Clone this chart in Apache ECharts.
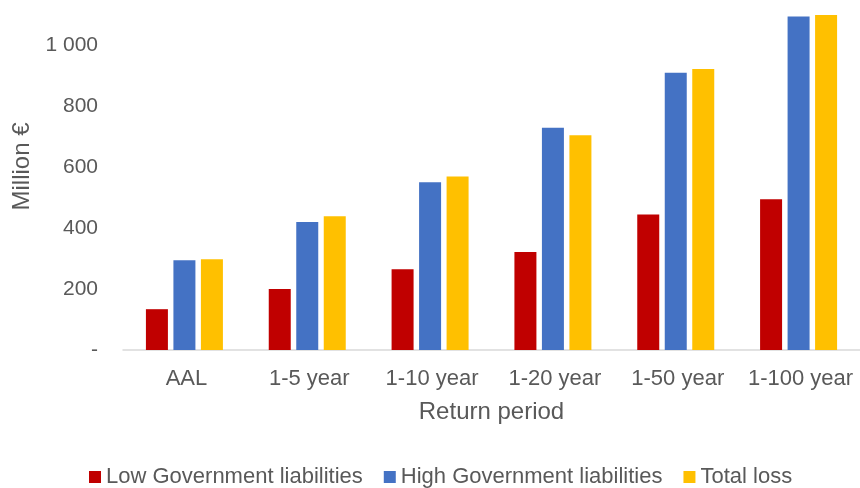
<!DOCTYPE html>
<html>
<head>
<meta charset="utf-8">
<script src="https://cdn.jsdelivr.net/npm/echarts@6/dist/echarts.min.js"></script>
<style>
  html, body { margin: 0; padding: 0; background: #fff; }
  #chart { width: 860px; height: 488px; }
</style>
</head>
<body>
<div id="chart"></div>
<script>
  const categories = ['AAL', '1-5 year', '1-10 year', '1-20 year', '1-50 year', '1-100 year'];
  const lowGov = [134, 200, 265, 322, 445, 495];
  const highGov = [295, 420, 551, 730, 910, 1095];
  const totalLoss = [298, 439, 570, 705, 923, 1100];

  const chart = echarts.init(document.getElementById('chart'));
  const textColor = '#595959';
  const font = 'Liberation Sans, Arial, sans-serif';

  chart.setOption({
    animation: false,
    textStyle: { fontFamily: font },
    legend: {
      data: ['Low Government liabilities', 'High Government liabilities', 'Total loss'],
      bottom: -5,
      left: 84,
      icon: 'rect',
      itemWidth: 12,
      itemHeight: 12,
      itemGap: 21,
      textStyle: { fontSize: 22, color: textColor, fontFamily: font },
    },
    grid: {
      left: 123,
      width: 740,
      top: 15,
      bottom: 138,
      containLabel: false,
    },
    xAxis: {
      type: 'category',
      data: categories,
      name: 'Return period',
      nameLocation: 'middle',
      nameGap: 50,
      nameTextStyle: { fontSize: 24, color: textColor, fontFamily: font },
      axisLabel: { fontSize: 22, color: textColor, margin: 18, interval: 0, fontFamily: font, padding: [0, 0, 0, 4] },
      axisLine: { show: true, lineStyle: { color: '#d9d9d9', width: 1.5 } },
      axisTick: { show: false },
    },
    yAxis: {
      type: 'value',
      min: 0,
      max: 1100,
      interval: 200,
      name: 'Million €',
      nameLocation: 'middle',
      nameGap: 86,
      nameTextStyle: { fontSize: 24, color: textColor, fontFamily: font, padding: [0, 0, 0, 32] },
      axisLine: { show: false },
      axisTick: { show: false },
      splitLine: { show: false },
      axisLabel: {
        fontSize: 21,
        color: textColor,
        margin: 25,
        fontFamily: font,
        formatter: v => {
          if (v === 0) return '-';
          if (v > 1000) return '';
          return v >= 1000 ? String(v).replace(/\B(?=(\d{3})+(?!\d))/g, ' ') : String(v);
        },
      },
    },
    series: [
      {
        name: 'Low Government liabilities',
        type: 'bar',
        barWidth: 22,
        barGap: '25%',
        itemStyle: { color: '#c00000' },
        data: lowGov,
      },
      {
        name: 'High Government liabilities',
        type: 'bar',
        barWidth: 22,
        barGap: '25%',
        itemStyle: { color: '#4472c4' },
        data: highGov,
      },
      {
        name: 'Total loss',
        type: 'bar',
        barWidth: 22,
        barGap: '25%',
        itemStyle: { color: '#ffc000' },
        data: totalLoss,
      },
    ],
  });
</script>
</body>
</html>
